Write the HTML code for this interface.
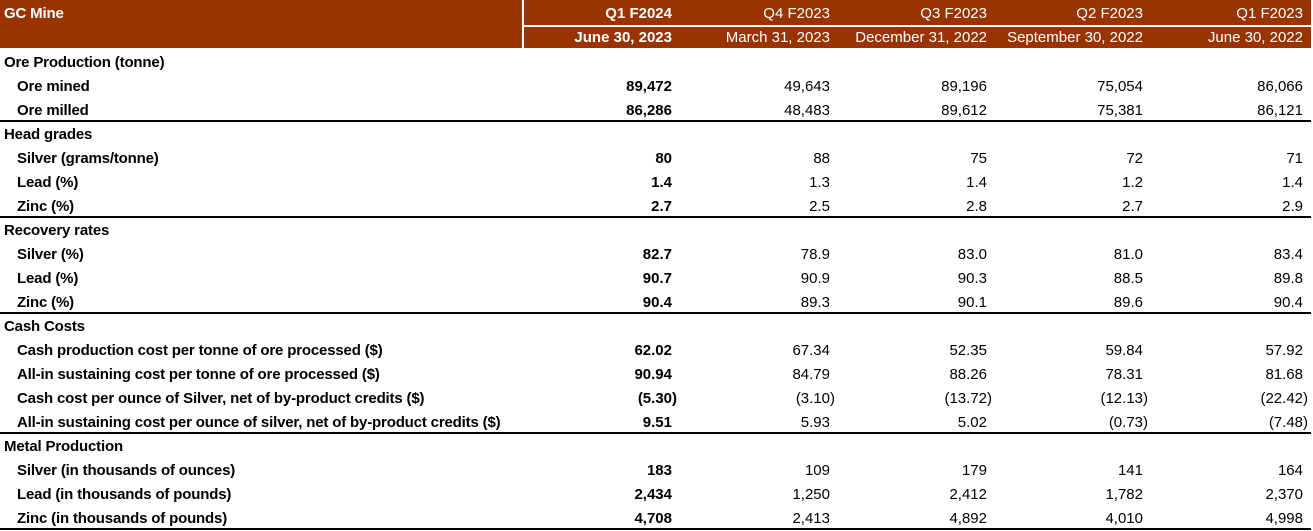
<!DOCTYPE html>
<html><head><meta charset="utf-8"><style>
body{margin:0;width:1313px;height:529px;background:#fff;position:relative;overflow:hidden;font-family:"Liberation Sans",sans-serif;font-size:15px;letter-spacing:-0.17px;color:#000}
.h{position:absolute;background:#993300;color:#fff}
.t{position:absolute;white-space:nowrap;line-height:24px}
.r{text-align:right;letter-spacing:0}
.line{position:absolute;left:0;width:1311px;height:1.5px;background:#000}
</style></head><body>
<div class="h" style="left:0;top:0;width:1311px;height:48px"></div>
<div style="position:absolute;left:522px;top:0;width:2px;height:48px;background:#fff"></div>
<div style="position:absolute;left:522px;top:25px;width:790px;height:1.5px;background:#fff"></div>
<div class="t" style="left:4px;top:2px;color:#fff;font-weight:bold">GC Mine</div>
<div id="body"></div>
<script>
const R=[672,830,987,1143,1303];
const h1=["Q1 F2024","Q4 F2023","Q3 F2023","Q2 F2023","Q1 F2023"];
const h2=["June 30, 2023","March 31, 2023","December 31, 2022","September 30, 2022","June 30, 2022"];
let s="";
for(let i=0;i<5;i++){
s+=`<div class="t r" style="right:${1313-R[i]}px;top:2px;color:#fff;${i==0?'font-weight:bold':''}">${h1[i]}</div>`;
s+=`<div class="t r" style="right:${1313-R[i]}px;top:26px;color:#fff;${i==0?'font-weight:bold':''}">${h2[i]}</div>`;
}
const rows=[
["Ore Production (tonne)",0],
["Ore mined",1,"89,472","49,643","89,196","75,054","86,066"],
["Ore milled",1,"86,286","48,483","89,612","75,381","86,121"],
["Head grades",0],
["Silver (grams/tonne)",1,"80","88","75","72","71"],
["Lead (%)",1,"1.4","1.3","1.4","1.2","1.4"],
["Zinc (%)",1,"2.7","2.5","2.8","2.7","2.9"],
["Recovery rates",0],
["Silver (%)",1,"82.7","78.9","83.0","81.0","83.4"],
["Lead (%)",1,"90.7","90.9","90.3","88.5","89.8"],
["Zinc (%)",1,"90.4","89.3","90.1","89.6","90.4"],
["Cash Costs",0],
["Cash production cost per tonne of ore processed ($)",1,"62.02","67.34","52.35","59.84","57.92"],
["All-in sustaining cost per tonne of ore processed ($)",1,"90.94","84.79","88.26","78.31","81.68"],
["Cash cost per ounce of Silver, net of by-product credits ($)",1,"(5.30)","(3.10)","(13.72)","(12.13)","(22.42)"],
["All-in sustaining cost per ounce of silver, net of by-product credits ($)",1,"9.51","5.93","5.02","(0.73)","(7.48)"],
["Metal Production",0],
["Silver (in thousands of ounces)",1,"183","109","179","141","164"],
["Lead (in thousands of pounds)",1,"2,434","1,250","2,412","1,782","2,370"],
["Zinc (in thousands of pounds)",1,"4,708","2,413","4,892","4,010","4,998"]];
const lines=[2,6,10,15,19];
rows.forEach((r,i)=>{
const y=49+24*i;
s+=`<div class="t" style="left:${r[1]?17:4}px;top:${y+2}px;font-weight:bold">${r[0]}</div>`;
for(let j=0;j<5&&r.length>2;j++){
s+=`<div class="t r" style="right:${1313-R[j]-(r[j+2].endsWith(')')?5:0)}px;top:${y+2}px;${j==0?'font-weight:bold':''}">${r[j+2]}</div>`;
}
if(lines.includes(i))s+=`<div class="line" style="top:${y+23}px"></div>`;
});
document.getElementById('body').innerHTML=s;
</script>
</body></html>
